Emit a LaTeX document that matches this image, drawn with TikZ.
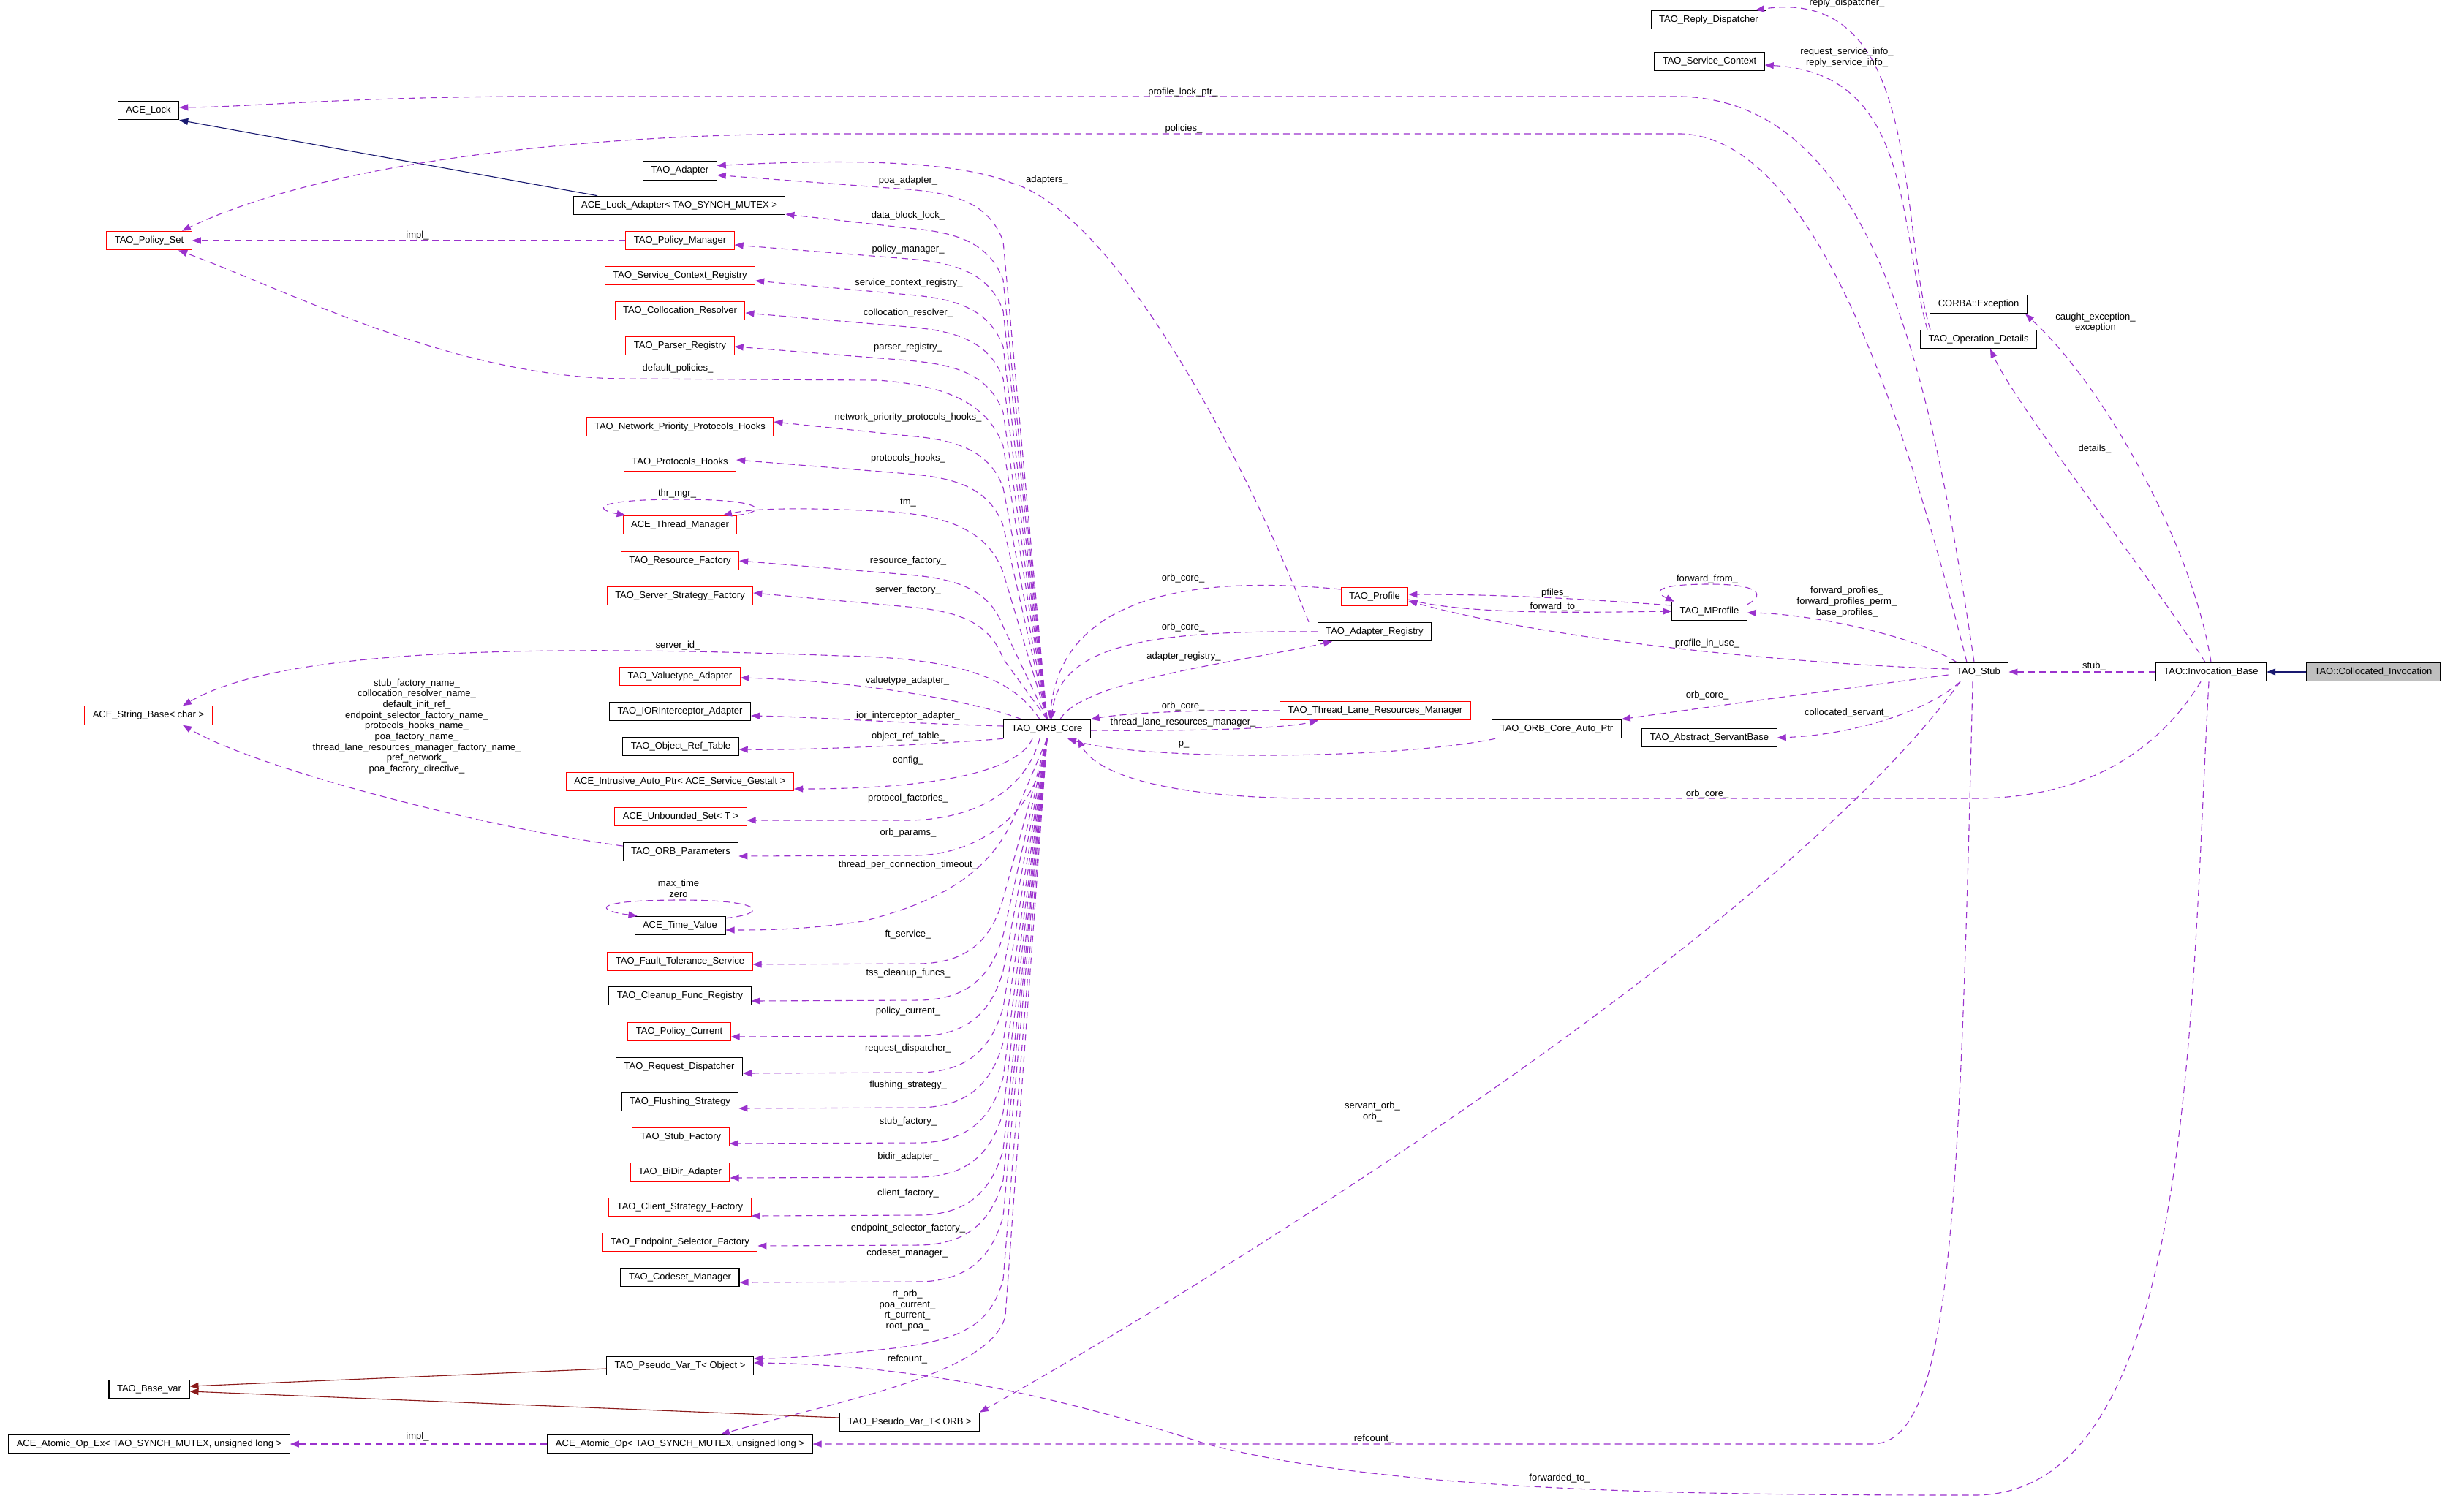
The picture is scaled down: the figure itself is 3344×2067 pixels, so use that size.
\documentclass[tikz,border=0pt]{standalone}
\usepackage{fontspec}
\setmainfont{Liberation Sans}
\usetikzlibrary{arrows.meta}
\definecolor{purp}{HTML}{9A32CD}
\definecolor{navyb}{HTML}{191970}
\definecolor{fireb}{HTML}{8B1A1A}
\definecolor{greyf}{HTML}{BFBFBF}
\newcommand\myUp[2]{\draw[mem] (orb.north) -- (1372,#2+90) .. controls (1352,#2+35) and (1300,#2+24) .. (1242,#2+19) -- (#1);}
\newcommand\myDn[2]{\draw[mem] (orb.south) -- (1372,#2-90) .. controls (1355,#2-30) and (1320,#2-3) .. (1260,#2-1) -- (#1);}
\begin{document}
\begin{tikzpicture}[x=1pt,y=-1pt,
  every node/.style={font=\fontsize{13}{14.7}\selectfont},
  cls/.style={draw=black,line width=1.1pt,rectangle,minimum height=25.5pt,inner xsep=11pt,inner ysep=0pt,text height=9.5pt,text depth=2.6pt},
  rcls/.style={cls,draw=red},
  lbl/.style={inner sep=0pt,text height=9.5pt,text depth=2.6pt},
  mlbl/.style={inner sep=0pt,align=center},
  mem/.style={draw=purp,line width=1.1pt,dash pattern=on 9pt off 6pt,-{Triangle[length=12pt,width=9pt]}},
  inhb/.style={draw=navyb,line width=1.1pt,-{Triangle[length=12pt,width=9pt]}},
  inhr/.style={draw=fireb,line width=1.1pt,-{Triangle[length=12pt,width=9pt]}}]
\useasboundingbox (0,0) rectangle (3344,2067);
\fill[white] (0,0) rectangle (3344,2067);

% far left
\node[cls] (acelock) at (203,151) {ACE\_Lock};
\node[rcls] (polset) at (204,329) {TAO\_Policy\_Set};
\node[rcls] (strbase) at (203,978.5) {ACE\_String\_Base< char >};
\node[cls] (basevar) at (204,1900) {TAO\_Base\_var};
\node[cls] (aopex) at (204,1975) {ACE\_Atomic\_Op\_Ex< TAO\_SYNCH\_MUTEX, unsigned long >};

% left column
\node[cls] (adapter) at (930,233.5) {TAO\_Adapter};
\node[cls] (lockadapter) at (929,281) {ACE\_Lock\_Adapter< TAO\_SYNCH\_MUTEX >};
\node[rcls] (policymgr) at (930,329) {TAO\_Policy\_Manager};
\node[rcls] (scr) at (930,377) {TAO\_Service\_Context\_Registry};
\node[rcls] (collres) at (930,425) {TAO\_Collocation\_Resolver};
\node[rcls] (parser) at (930,473) {TAO\_Parser\_Registry};
\node[rcls] (nph) at (930,584) {TAO\_Network\_Priority\_Protocols\_Hooks};
\node[rcls] (ph) at (930,632) {TAO\_Protocols\_Hooks};
\node[rcls] (thrmgr) at (930,718) {ACE\_Thread\_Manager};
\node[rcls] (resfac) at (930,767) {TAO\_Resource\_Factory};
\node[rcls] (ssf) at (930,815) {TAO\_Server\_Strategy\_Factory};
\node[rcls] (vta) at (930,925) {TAO\_Valuetype\_Adapter};
\node[cls] (iora) at (930,973) {TAO\_IORInterceptor\_Adapter};
\node[cls] (ort) at (931,1021) {TAO\_Object\_Ref\_Table};
\node[rcls] (iap) at (930,1069) {ACE\_Intrusive\_Auto\_Ptr< ACE\_Service\_Gestalt >};
\node[rcls] (ubs) at (931,1117) {ACE\_Unbounded\_Set< T >};
\node[cls] (orbp) at (931,1165) {TAO\_ORB\_Parameters};
\node[cls] (tv) at (930,1266) {ACE\_Time\_Value};
\node[rcls] (fts) at (930,1315) {TAO\_Fault\_Tolerance\_Service};
\node[cls] (cfr) at (930,1362) {TAO\_Cleanup\_Func\_Registry};
\node[rcls] (pc) at (929,1411) {TAO\_Policy\_Current};
\node[cls] (rd) at (929,1459) {TAO\_Request\_Dispatcher};
\node[cls] (fs) at (930,1507) {TAO\_Flushing\_Strategy};
\node[rcls] (sf) at (931,1555) {TAO\_Stub\_Factory};
\node[rcls] (bidir) at (930,1603) {TAO\_BiDir\_Adapter};
\node[rcls] (csf) at (930,1651) {TAO\_Client\_Strategy\_Factory};
\node[rcls] (esf) at (930,1699) {TAO\_Endpoint\_Selector\_Factory};
\node[cls] (cm) at (930,1747) {TAO\_Codeset\_Manager};
\node[cls] (pvobj) at (930,1868) {TAO\_Pseudo\_Var\_T< Object >};
\node[cls] (aop) at (930,1975) {ACE\_Atomic\_Op< TAO\_SYNCH\_MUTEX, unsigned long >};

% middle and right
\node[cls] (orb) at (1432,997) {TAO\_ORB\_Core};
\node[cls] (pvorb) at (1244,1945) {TAO\_Pseudo\_Var\_T< ORB >};
\node[rcls] (profile) at (1880,816) {TAO\_Profile};
\node[cls] (areg) at (1880,864) {TAO\_Adapter\_Registry};
\node[rcls] (tlrm) at (1881,972) {TAO\_Thread\_Lane\_Resources\_Manager};
\node[cls] (oap) at (2129,997) {TAO\_ORB\_Core\_Auto\_Ptr};
\node[cls] (mprof) at (2338,836) {TAO\_MProfile};
\node[cls] (asb) at (2338,1009) {TAO\_Abstract\_ServantBase};
\node[cls] (rdisp) at (2337,27) {TAO\_Reply\_Dispatcher};
\node[cls] (sctx) at (2338,84) {TAO\_Service\_Context};
\node[cls] (cex) at (2706,416) {CORBA::Exception};
\node[cls] (opd) at (2706,464) {TAO\_Operation\_Details};
\node[cls] (stub) at (2706,919) {TAO\_Stub};
\node[cls] (ib) at (3024,919) {TAO::Invocation\_Base};
\node[cls,fill=greyf] (ci) at (3246,919) {TAO::Collocated\_Invocation};

% ORB core upper bundle
\myUp{[yshift=-6pt]adapter.east}{240}
\myUp{[yshift=-12pt]lockadapter.east}{293}
\myUp{[yshift=-6pt]policymgr.east}{335}
\myUp{[yshift=-7pt]scr.east}{384}
\myUp{[yshift=-3pt]collres.east}{428}
\myUp{[yshift=-1pt]parser.east}{474}
\myUp{[yshift=7pt]nph.east}{577}
\myUp{[yshift=3pt]ph.east}{629}
\myUp{resfac.east}{767}
\myUp{[yshift=4pt]ssf.east}{811}
\draw[mem] (orb.north) -- (1372,610) .. controls (1352,555) and (1300,527) .. (1200,520) -- (850,518) .. controls (620,515) and (400,400) .. ([xshift=40pt]polset.south);
\draw[mem] (orb.north) -- (1372,783) .. controls (1352,728) and (1300,703) .. (1200,699) .. controls (1100,694) and (1030,695) .. ([xshift=59pt]thrmgr.north);
\draw[mem] ([xshift=-10pt]orb.north) .. controls (1390,935) and (1330,900) .. (1150,897) .. controls (700,880) and (380,890) .. ([xshift=47pt]strbase.north);
\draw[mem] ([xshift=-35pt]orb.north) .. controls (1350,965) and (1200,932) .. ([yshift=-2pt]vta.east);
\draw[mem] ([yshift=4pt]orb.west) .. controls (1250,990) and (1100,980) .. ([yshift=-6pt]iora.east);
\draw[mem] (orb.south west) .. controls (1250,1020) and (1100,1026) .. ([yshift=-4pt]ort.east);

% ORB core lower bundle
\draw[mem] ([xshift=-20pt]orb.south) .. controls (1395,1050) and (1300,1079) .. ([yshift=-10pt]iap.east);
\draw[mem] ([xshift=-10pt]orb.south) .. controls (1400,1090) and (1320,1122) .. (1240,1122) -- ([yshift=-5pt]ubs.east);
\draw[mem] (orb.south) .. controls (1420,1120) and (1330,1170) .. (1250,1170) -- ([yshift=-6pt]orbp.east);
\draw[mem] (orb.south) -- (1390,1110) .. controls (1360,1185) and (1300,1230) .. (1180,1260) .. controls (1100,1272) and (1040,1272) .. ([yshift=-6pt]tv.east);
\myDn{[yshift=-4pt]fts.east}{1319}
\myDn{[yshift=-7pt]cfr.east}{1369}
\myDn{[yshift=-7pt]pc.east}{1418}
\myDn{[yshift=-9pt]rd.east}{1468}
\myDn{[yshift=-9pt]fs.east}{1516}
\myDn{[yshift=-9pt]sf.east}{1564}
\myDn{[yshift=-8pt]bidir.east}{1611}
\myDn{[yshift=-12pt]csf.east}{1663}
\myDn{[yshift=-5pt]esf.east}{1704}
\myDn{[yshift=-7pt]cm.east}{1754}
\draw[mem] (orb.south) -- (1372,1750) .. controls (1355,1810) and (1320,1832) .. (1222,1844) .. controls (1150,1852) and (1080,1858) .. ([yshift=10pt]pvobj.east);
\draw[mem] (orb.south) -- (1375,1800) .. controls (1355,1880) and (1150,1915) .. ([xshift=56pt]aop.north);

% self loops
\draw[mem] (thrmgr.north east) .. controls (1050,700) and (1050,683) .. (930,683) .. controls (810,683) and (812,697) .. ([xshift=4pt]thrmgr.north west);
\draw[mem] ([yshift=-3pt]tv.north east) .. controls (1050,1250) and (1050,1231) .. (930,1231) .. controls (810,1231) and (812,1245) .. ([xshift=4pt]tv.north west);
\draw[mem] ([yshift=-4pt]mprof.north east) .. controls (2412,815) and (2412,799) .. (2338,799) .. controls (2262,799) and (2262,810) .. ([xshift=4pt]mprof.north west);

% left side misc
\draw[mem] (policymgr.west) -- (polset.east);
\draw[mem] (aop.west) -- (aopex.east);
\draw[mem] ([yshift=8pt]orbp.west) .. controls (650,1130) and (350,1050) .. ([xshift=47pt]strbase.south);
\draw[inhb] ([xshift=-112pt]lockadapter.north) -- (acelock.south east);
\draw[inhr] ([yshift=-4pt]pvobj.west) -- ([yshift=4pt]basevar.east);
\draw[inhr] ([yshift=6pt]pvorb.west) -- ([yshift=-3pt]basevar.east);

% adapter registry / profile / tlrm
\draw[mem] ([xshift=-90pt]areg.north) .. controls (1690,600) and (1520,290) .. (1383,250) .. controls (1320,225) and (1200,215) .. ([yshift=7pt]adapter.east);
\draw[mem] ([yshift=10pt]profile.west) .. controls (1620,785) and (1450,820) .. ([xshift=4pt]orb.north);
\draw[mem] (areg.west) .. controls (1580,862) and (1450,880) .. ([xshift=6pt]orb.north);
\draw[mem] ([xshift=18pt]orb.north) .. controls (1480,930) and (1700,905) .. ([xshift=-58pt]areg.south);
\draw[mem] (tlrm.west) .. controls (1650,970) and (1540,975) .. (orb.north east);
\draw[mem] ([yshift=-2pt]orb.east) .. controls (1600,1000) and (1750,998) .. ([xshift=-78pt]tlrm.south);
\draw[mem] ([xshift=-84pt]oap.south) .. controls (1900,1040) and (1560,1040) .. ([xshift=28pt]orb.south);
\draw[mem] ([xshift=-14pt]ib.south) .. controls (2950,1030) and (2850,1092) .. (2700,1092) -- (1800,1092) .. controls (1600,1092) and (1500,1060) .. ([xshift=42pt]orb.south);

% stub edges
\draw[mem] ([yshift=-4pt]stub.west) .. controls (2500,945) and (2350,965) .. (oap.north east);
\draw[mem] ([yshift=4pt]stub.west) .. controls (2400,905) and (2100,870) .. ([yshift=-6pt]profile.east);
\draw[mem] ([yshift=8pt]mprof.west) .. controls (2150,818) and (2050,813) .. ([yshift=3pt]profile.east);
\draw[mem] ([yshift=-4pt]profile.east) .. controls (2000,840) and (2150,838) .. (mprof.west);
\draw[mem] ([xshift=-30pt]stub.north) .. controls (2620,870) and (2480,840) .. ([yshift=-2pt]mprof.east);
\draw[mem] ([xshift=-25pt]stub.south) .. controls (2640,970) and (2540,1005) .. (asb.east);
\draw[mem] ([xshift=-25pt]stub.south) .. controls (2450,1250) and (1750,1700) .. ([xshift=96pt]pvorb.north);
\draw[mem] ([xshift=-8pt]stub.south) .. controls (2680,1700) and (2665,1975) .. (2560,1975) -- (aop.east);
\draw[mem] ([xshift=-6pt]stub.north) .. controls (2640,500) and (2560,140) .. (2300,132) -- (700,132) .. controls (450,134) and (350,146) .. ([yshift=4pt]acelock.east);
\draw[mem] ([xshift=-16pt]stub.north) .. controls (2600,550) and (2480,190) .. (2300,183) -- (1100,183) .. controls (800,185) and (450,220) .. ([xshift=45pt]polset.north);

% invocation base
\draw[mem] (ib.west) -- (stub.east);
\draw[inhb] (ci.west) -- (ib.east);
\draw[mem] ([xshift=-8pt]ib.north) .. controls (2950,800) and (2760,560) .. ([xshift=16pt]opd.south);
\draw[mem] (ib.north) .. controls (3000,750) and (2880,530) .. ([xshift=64pt]cex.south);
\draw[mem] ([xshift=-3pt]ib.south) .. controls (2995,1400) and (3000,2045) .. (2700,2045) .. controls (2300,2045) and (1900,2040) .. (1650,1975) .. controls (1450,1910) and (1250,1866) .. ([yshift=4pt]pvobj.east);

% operation details
\draw[mem] ([xshift=-70pt]opd.north) .. controls (2595,300) and (2615,100) .. ([yshift=-5pt]sctx.east);
\draw[mem] ([xshift=-66pt]opd.north) .. controls (2595,300) and (2630,-20) .. ([xshift=64pt]rdisp.north);

% labels
\node[lbl] (l_poa) at (1242,247) {poa\_adapter\_};
\node[lbl] (l_adapters) at (1432,246) {adapters\_};
\node[lbl] (l_dbl) at (1242,295) {data\_block\_lock\_};
\node[lbl] (l_pm) at (1242,341) {policy\_manager\_};
\node[lbl] (l_scr) at (1243,387) {service\_context\_registry\_};
\node[lbl] (l_cr) at (1242,428) {collocation\_resolver\_};
\node[lbl] (l_pr) at (1242,475) {parser\_registry\_};
\node[lbl] (l_dp) at (927,504) {default\_policies\_};
\node[lbl] (l_nph) at (1242,571) {network\_priority\_protocols\_hooks\_};
\node[lbl] (l_ph) at (1242,627) {protocols\_hooks\_};
\node[lbl] (l_thr) at (926,675) {thr\_mgr\_};
\node[lbl] (l_tm) at (1242,687) {tm\_};
\node[lbl] (l_rf) at (1242,767) {resource\_factory\_};
\node[lbl] (l_sf) at (1242,807) {server\_factory\_};
\node[lbl] (l_sid) at (927,883) {server\_id\_};
\node[lbl] (l_va) at (1241,931) {valuetype\_adapter\_};
\node[lbl] (l_ia) at (1242,979) {ior\_interceptor\_adapter\_};
\node[lbl] (l_ort) at (1242,1007) {object\_ref\_table\_};
\node[lbl] (l_cfg) at (1242,1040) {config\_};
\node[lbl] (l_pf) at (1242,1092) {protocol\_factories\_};
\node[lbl] (l_op) at (1242,1139) {orb\_params\_};
\node[lbl] (l_tpc) at (1242,1183) {thread\_per\_connection\_timeout\_};
\node[mlbl] (l_mt) at (928,1215.5) {max\_time\\zero};
\node[lbl] (l_ft) at (1242,1278) {ft\_service\_};
\node[lbl] (l_tss) at (1242,1331) {tss\_cleanup\_funcs\_};
\node[lbl] (l_pcur) at (1242,1383) {policy\_current\_};
\node[lbl] (l_rd) at (1242,1434) {request\_dispatcher\_};
\node[lbl] (l_fs) at (1242,1484) {flushing\_strategy\_};
\node[lbl] (l_stf) at (1242,1534) {stub\_factory\_};
\node[lbl] (l_bd) at (1242,1582) {bidir\_adapter\_};
\node[lbl] (l_cf) at (1242,1632) {client\_factory\_};
\node[lbl] (l_esf) at (1242,1680) {endpoint\_selector\_factory\_};
\node[lbl] (l_cm) at (1241,1714) {codeset\_manager\_};
\node[mlbl] (l_rt) at (1241,1792) {rt\_orb\_\\poa\_current\_\\rt\_current\_\\root\_poa\_};
\node[lbl] (l_rc1) at (1241,1859) {refcount\_};
\node[lbl] (l_rc2) at (1879,1968) {refcount\_};
\node[lbl] (l_impl1) at (571,322) {impl\_};
\node[lbl] (l_impl2) at (571,1965) {impl\_};
\node[mlbl] (l_sb) at (570,993.5) {stub\_factory\_name\_\\collocation\_resolver\_name\_\\default\_init\_ref\_\\endpoint\_selector\_factory\_name\_\\protocols\_hooks\_name\_\\poa\_factory\_name\_\\thread\_lane\_resources\_manager\_factory\_name\_\\pref\_network\_\\poa\_factory\_directive\_};
\node[lbl] (l_plp) at (1618,126) {profile\_lock\_ptr\_};
\node[lbl] (l_pol) at (1619,176) {policies\_};
\node[lbl] (l_oc1) at (1618,791) {orb\_core\_};
\node[lbl] (l_oc2) at (1618,858) {orb\_core\_};
\node[lbl] (l_ar) at (1619,898) {adapter\_registry\_};
\node[lbl] (l_oc3) at (1618,966) {orb\_core\_};
\node[lbl] (l_tlrm) at (1618,988) {thread\_lane\_resources\_manager\_};
\node[lbl] (l_p) at (1619,1017) {p\_};
\node[lbl] (l_pfiles) at (2127,811) {pfiles\_};
\node[lbl] (l_fto) at (2127,830) {forward\_to\_};
\node[lbl] (l_ffrom) at (2335,792) {forward\_from\_};
\node[mlbl] (l_fp) at (2526,823) {forward\_profiles\_\\forward\_profiles\_perm\_\\base\_profiles\_};
\node[lbl] (l_piu) at (2335,880) {profile\_in\_use\_};
\node[lbl] (l_oc4) at (2335,951) {orb\_core\_};
\node[lbl] (l_cs) at (2526,975) {collocated\_servant\_};
\node[lbl] (l_oc5) at (2335,1086) {orb\_core\_};
\node[lbl] (l_stub) at (2864,911) {stub\_};
\node[lbl] (l_det) at (2865,614) {details\_};
\node[mlbl] (l_ce) at (2866,441) {caught\_exception\_\\exception};
\node[mlbl] (l_si) at (2526,78.5) {request\_service\_info\_\\reply\_service\_info\_};
\node[lbl] (l_rdp) at (2526,4) {reply\_dispatcher\_};
\node[mlbl] (l_so) at (1877,1520.5) {servant\_orb\_\\orb\_};
\node[lbl] (l_fwd) at (2133,2022) {forwarded\_to\_};
\end{tikzpicture}
\end{document}
